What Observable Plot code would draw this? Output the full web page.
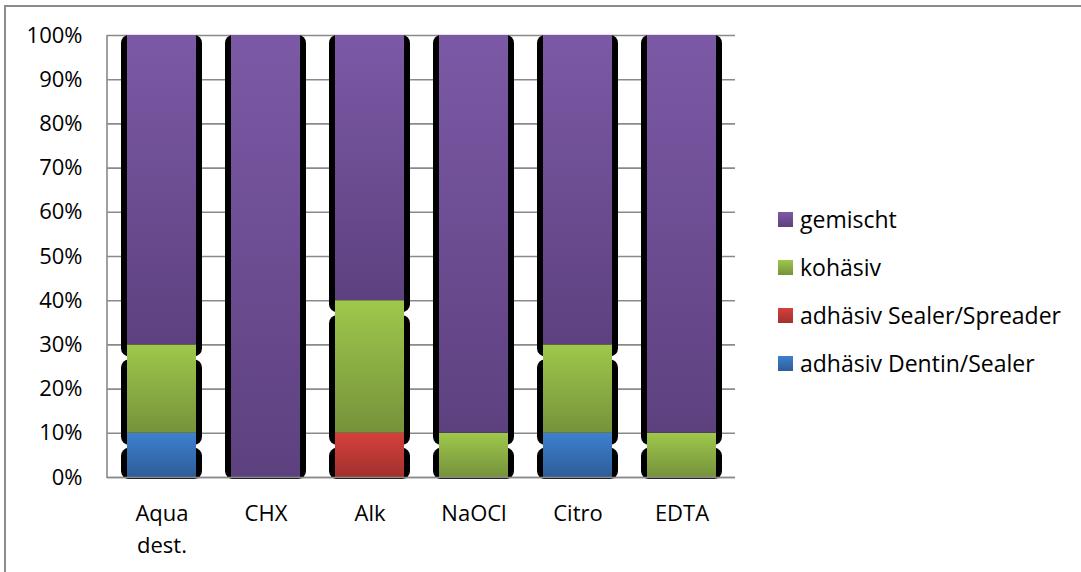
<!DOCTYPE html>
<html>
<head>
<meta charset="utf-8">
<script src="https://cdn.jsdelivr.net/npm/d3@7"></script>
<script src="https://cdn.jsdelivr.net/npm/@observablehq/plot@0.6"></script>
<style>
  html, body { margin: 0; padding: 0; background: #fff; }
  #wrap { position: relative; width: 1081px; height: 572px; overflow: hidden; font-family: "Open Sans", sans-serif; }
  #border { position: absolute; left: 4px; top: 5px; width: 2000px; height: 2000px; border-left: 2px solid #8c8c8c; border-top: 2px solid #8c8c8c; box-sizing: border-box; pointer-events: none; }
  #chart { position: absolute; left: 0; top: 0; }
  #legend { position: absolute; left: 778px; top: 0; font-size: 23px; color: #000; }
  .item { position: absolute; left: 0; display: flex; align-items: center; white-space: nowrap; transform: translateY(-50%); }
  .sw { width: 15px; height: 15px; margin-right: 7px; }
</style>
</head>
<body>
<div id="wrap">
  <div id="chart"></div>
  <div id="legend"></div>
  <div id="border"></div>
</div>
<script>
// ---- data ----
const categories = ["Aqua dest.", "CHX", "Alk", "NaOCl", "Citro", "EDTA"];
const seriesNames = ["adhäsiv Dentin/Sealer", "adhäsiv Sealer/Spreader", "kohäsiv", "gemischt"];
const dentinSealer   = [10, 0, 0, 0, 10, 0];
const sealerSpreader = [0, 0, 10, 0, 0, 0];
const kohaesiv       = [20, 0, 30, 10, 20, 10];
const gemischt       = [70, 100, 60, 90, 70, 90];
const yTicks = [0, 10, 20, 30, 40, 50, 60, 70, 80, 90, 100];
const legendOrder = ["gemischt", "kohäsiv", "adhäsiv Sealer/Spreader", "adhäsiv Dentin/Sealer"];

const seriesValues = [dentinSealer, sealerSpreader, kohaesiv, gemischt];
const gradients = {
  "adhäsiv Dentin/Sealer": ["#3d80d0", "#2e5d97"],
  "adhäsiv Sealer/Spreader": ["#d5403c", "#a2302e"],
  "kohäsiv": ["#9ec84b", "#76923b"],
  "gemischt": ["#7c59a6", "#5d417f"]
};
const gid = s => "g" + seriesNames.indexOf(s);

// stacked rows
const rows = [];
categories.forEach((c, i) => {
  let acc = 0;
  seriesNames.forEach((s, k) => {
    const v = seriesValues[k][i];
    if (v > 0) rows.push({cat: c, series: s, y1: acc, y2: acc + v});
    acc += v;
  });
});

const isTop = d => d.y2 === 100;
const isBottom = d => d.y1 === 0;
const shadow = (filter, opts) => Plot.rectY(rows.filter(filter), {
  x: "cat", y1: "y1", y2: "y2", fill: "black", rx: 8,
  insetLeft: -6, insetRight: -6, ...opts
});

const chart = Plot.plot({
  width: 1081,
  height: 572,
  marginLeft: 107,
  marginRight: 346,
  marginTop: 35,
  marginBottom: 95,
  style: {fontFamily: "Open Sans, sans-serif", fontSize: "22px", color: "#000", background: "transparent"},
  x: {domain: categories, paddingInner: 0.34, paddingOuter: 0.17, axis: null},
  y: {domain: [0, 100], axis: null},
  color: {domain: seriesNames, range: seriesNames.map(s => `url(#${gid(s)})`)},
  marks: [
    Plot.ruleY(yTicks, {stroke: "#8a8a8a", strokeWidth: 1.6}),
    shadow(d => isTop(d) && isBottom(d), {insetBottom: -2}),
    shadow(d => isTop(d) && !isBottom(d), {insetBottom: -12}),
    shadow(d => !isTop(d) && isBottom(d), {insetTop: 15, insetBottom: -2}),
    shadow(d => !isTop(d) && !isBottom(d), {insetTop: 15, insetBottom: -12}),
    Plot.rectY(rows, {x: "cat", y1: "y1", y2: "y2", fill: "series"}),
    Plot.ruleY([0], {stroke: "#8a8a8a", strokeWidth: 1.6}),
    Plot.axisY({ticks: yTicks, tickFormat: d => d + "%", tickSize: 0, tickPadding: 25, label: null, fontSize: 22}),
    Plot.text(categories, {
      x: d => d, text: d => d.replace(" ", "\n"), frameAnchor: "bottom",
      lineAnchor: "top", dy: 21, lineHeight: 1.45, fontSize: 22, fill: "#000"
    })
  ]
});

// gradients
const defs = d3.select(chart).insert("defs", ":first-child");
seriesNames.forEach(s => {
  const g = defs.append("linearGradient").attr("id", gid(s))
    .attr("x1", 0).attr("y1", 0).attr("x2", 0).attr("y2", 1);
  g.append("stop").attr("offset", "0%").attr("stop-color", gradients[s][0]);
  g.append("stop").attr("offset", "100%").attr("stop-color", gradients[s][1]);
});
// left axis line
const ys = chart.scale("y");
d3.select(chart).append("line")
  .attr("x1", 107).attr("x2", 107)
  .attr("y1", ys.range[0] + 1).attr("y2", ys.range[1])
  .attr("stroke", "#8a8a8a").attr("stroke-width", 1.6);

document.getElementById("chart").appendChild(chart);

// legend
const legend = d3.select("#legend");
legendOrder.forEach((s, i) => {
  const item = legend.append("div").attr("class", "item").style("top", (219 + i * 48) + "px");
  item.append("div").attr("class", "sw")
    .style("background", `linear-gradient(${gradients[s][0]}, ${gradients[s][1]})`);
  item.append("span").text(s);
});
</script>
</body>
</html>
